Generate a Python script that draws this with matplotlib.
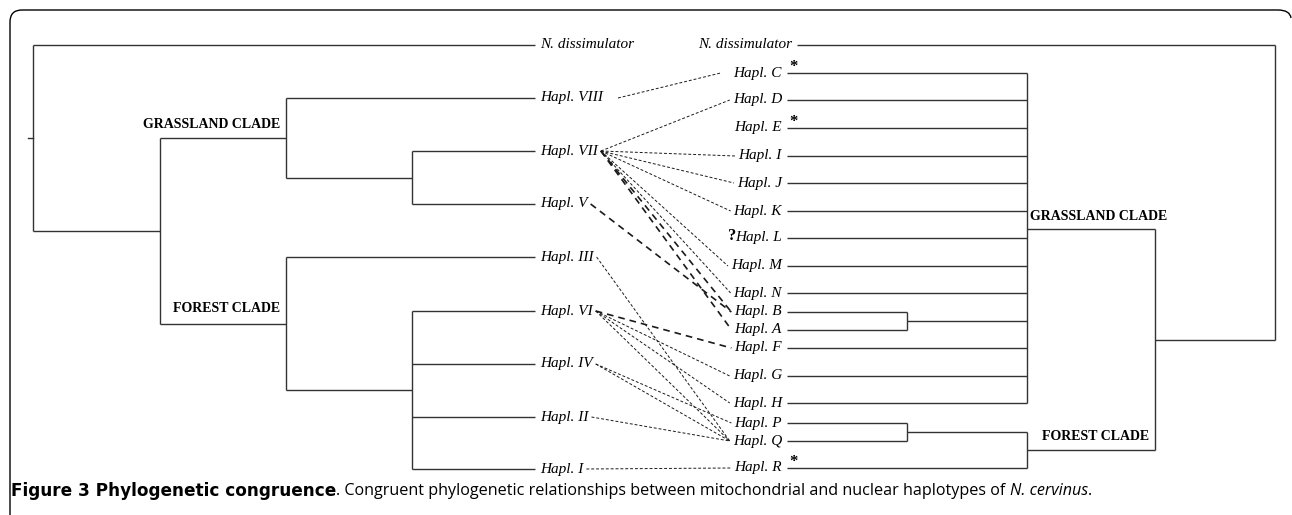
import matplotlib
matplotlib.use("Agg")
import matplotlib.pyplot as plt
from matplotlib.path import Path
from matplotlib.patches import PathPatch

# ---- data ------------------------------------------------------------------
# mitochondrial tree (left)
LEFT_LEAVES = ["N. dissimulator", "Hapl. VIII", "Hapl. VII", "Hapl. V", "Hapl. III",
               "Hapl. VI", "Hapl. IV", "Hapl. II", "Hapl. I"]
LEFT_ROWS = [45, 98, 151, 204, 257, 311, 364, 417, 469]
LEFT_TREE = ("root", ["N. dissimulator",
                      ("ingroup", [("grass", ["Hapl. VIII", ("g2", ["Hapl. VII", "Hapl. V"])]),
                                   ("forest", ["Hapl. III",
                                               ("f2", ["Hapl. VI", "Hapl. IV", "Hapl. II", "Hapl. I"])])])])
LEFT_NODE_X = {"root": 33, "ingroup": 160, "grass": 286, "g2": 412, "forest": 286, "f2": 412}

# nuclear tree (right)
RIGHT_LEAVES = ["N. dissimulator", "Hapl. C", "Hapl. D", "Hapl. E", "Hapl. I", "Hapl. J",
                "Hapl. K", "Hapl. L", "Hapl. M", "Hapl. N", "Hapl. B", "Hapl. A", "Hapl. F",
                "Hapl. G", "Hapl. H", "Hapl. P", "Hapl. Q", "Hapl. R"]
RIGHT_ROWS = [45, 73, 100, 128, 156, 183, 211, 238, 266, 293, 312, 330, 348, 376, 403, 423, 441, 468]
RIGHT_TREE = ("root", ["N. dissimulator",
                       ("ingroup", [("grass", ["Hapl. C", "Hapl. D", "Hapl. E", "Hapl. I", "Hapl. J",
                                               "Hapl. K", "Hapl. L", "Hapl. M", "Hapl. N",
                                               ("ba", ["Hapl. B", "Hapl. A"]),
                                               "Hapl. F", "Hapl. G", "Hapl. H"]),
                                    ("forest", [("pq", ["Hapl. P", "Hapl. Q"]), "Hapl. R"])])])
RIGHT_NODE_X = {"root": 1275, "ingroup": 1155, "grass": 1027, "ba": 907, "forest": 1027, "pq": 907}
RIGHT_NODE_Y = {"grass": 229}
STAR = ["Hapl. C", "Hapl. E", "Hapl. R"]
QUERY = ["Hapl. L"]

# congruence links: (mito, nuclear, bold?)
LINKS = [("Hapl. VIII", "Hapl. C", False),
         ("Hapl. VII", "Hapl. D", False), ("Hapl. VII", "Hapl. I", False),
         ("Hapl. VII", "Hapl. J", False), ("Hapl. VII", "Hapl. K", False),
         ("Hapl. VII", "Hapl. M", False), ("Hapl. VII", "Hapl. N", False),
         ("Hapl. VII", "Hapl. B", True), ("Hapl. VII", "Hapl. A", True),
         ("Hapl. V", "Hapl. B", True),
         ("Hapl. III", "Hapl. Q", False),
         ("Hapl. VI", "Hapl. F", True), ("Hapl. VI", "Hapl. G", False),
         ("Hapl. VI", "Hapl. H", False), ("Hapl. VI", "Hapl. Q", False),
         ("Hapl. IV", "Hapl. P", False), ("Hapl. IV", "Hapl. Q", False),
         ("Hapl. II", "Hapl. Q", False),
         ("Hapl. I", "Hapl. R", False)]

CAPTION = [("Figure 3 Phylogenetic congruence", "bold", "normal"),
           (". Congruent phylogenetic relationships between mitochondrial and nuclear haplotypes of ",
            "normal", "normal"),
           ("N. cervinus", "normal", "italic"),
           (".", "normal", "normal")]

# ---- plot --------------------------------------------------------------------
W, H = 1292, 515
fig = plt.figure(figsize=(W / 100, H / 100), dpi=100)
ax = fig.add_axes([0, 0, 1, 1])
ax.set_xlim(0, W)
ax.set_ylim(H, 0)
ax.axis("off")

TREE_C, LW = "#333333", 1.0
SERIF = "Liberation Serif"


def draw_tree(node, rows, node_x, tips, node_y=None):
    """Draw a rectangular cladogram, return (y, x) of the node."""
    node_y = node_y or {}
    if isinstance(node, str):
        return rows[node], tips(node)
    name, kids = node
    x = node_x[name]
    ys = []
    for k in kids:
        ky, kx = draw_tree(k, rows, node_x, tips, node_y)
        ax.plot([x, kx], [ky, ky], color=TREE_C, lw=LW, solid_capstyle="butt")
        ys.append(ky)
    ax.plot([x, x], [min(ys), max(ys)], color=TREE_C, lw=LW, solid_capstyle="butt")
    return node_y.get(name, (min(ys) + max(ys)) / 2), x


def right_tip(nm):
    return 797 if nm == "N. dissimulator" else 787


left_y = dict(zip(LEFT_LEAVES, LEFT_ROWS))
right_y = dict(zip(RIGHT_LEAVES, RIGHT_ROWS))
ry, rx = draw_tree(LEFT_TREE, left_y, LEFT_NODE_X, lambda nm: 535)
ax.plot([28, rx], [ry, ry], color=TREE_C, lw=LW)
draw_tree(RIGHT_TREE, right_y, RIGHT_NODE_X, right_tip, RIGHT_NODE_Y)

fig.canvas.draw()
rend = fig.canvas.get_renderer()
inv = ax.transData.inverted()

left_ext = {}
for nm in LEFT_LEAVES:
    t = ax.text(540, left_y[nm], nm, family=SERIF, style="italic", fontsize=11,
                ha="left", va="center")
    bb = t.get_window_extent(rend)
    left_ext[nm] = inv.transform((bb.x1, 0))[0]

right_ext = {}
for nm in RIGHT_LEAVES:
    t = ax.text(right_tip(nm) - 5, right_y[nm], nm, family=SERIF, style="italic", fontsize=11,
                ha="right", va="center")
    bb = t.get_window_extent(rend)
    right_ext[nm] = inv.transform((bb.x0, 0))[0]
    if nm in STAR:
        ax.text(789, right_y[nm] - 6, "*", family=SERIF, fontsize=12, fontweight="bold",
                ha="left", va="center")
    if nm in QUERY:
        ax.text(right_ext[nm] + 1, right_y[nm] - 2, "?", family=SERIF, fontsize=12,
                fontweight="bold", ha="right", va="center")

for a, b, bold in LINKS:
    x0, y0 = left_ext[a] + 3, left_y[a]
    x1, y1 = right_ext[b] - 3, right_y[b]
    if y0 == y1 or a == "Hapl. VIII":
        x0 += 12
        x1 -= 10
    if bold:
        ax.plot([x0, x1], [y0, y1], color="#1a1a1a", lw=1.2, dashes=(4, 3))
    else:
        ax.plot([x0, x1], [y0, y1], color="#1a1a1a", lw=0.7, dashes=(3, 2))

CLADE_KW = dict(family=SERIF, fontweight="bold", fontsize=10, va="center")
ax.text(280, 124, "GRASSLAND CLADE", ha="right", **CLADE_KW)
ax.text(280, 308, "FOREST CLADE", ha="right", **CLADE_KW)
ax.text(1030, 216, "GRASSLAND CLADE", ha="left", **CLADE_KW)
ax.text(1149, 437, "FOREST CLADE", ha="right", **CLADE_KW)

# frame: left and top edges with rounded corners
verts = [(10, H), (10, 22), (10, 10), (22, 10), (1278, 10), (1290, 10), (1291, 18)]
codes = [Path.MOVETO, Path.LINETO, Path.CURVE3, Path.CURVE3, Path.LINETO, Path.CURVE3, Path.CURVE3]
ax.add_patch(PathPatch(Path(verts, codes), fill=False, ec="black", lw=1.0))

# caption, built piece by piece
x = 11
for txt, wt, st in CAPTION:
    fam, fs = ("DejaVu Sans", 12.2) if wt == "bold" else ("Open Sans", 11.6)
    t = ax.text(x, 491, txt, family=fam, fontweight=wt, style=st, fontsize=fs,
                ha="left", va="center")
    bb = t.get_window_extent(rend)
    x = inv.transform((bb.x1, 0))[0]

fig.savefig("out.png", dpi=100)
